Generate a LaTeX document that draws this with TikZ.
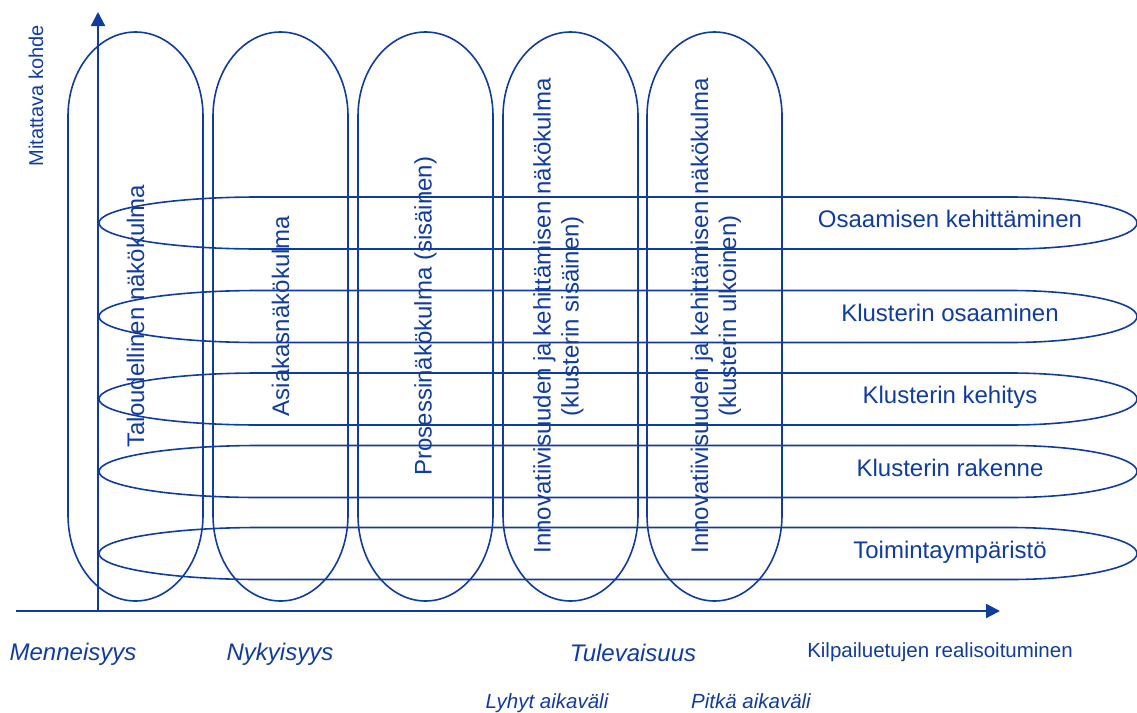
\documentclass[tikz,border=0pt]{standalone}
\usepackage{fontspec}
\setmainfont{Liberation Sans}
\usetikzlibrary{arrows.meta,positioning}
\definecolor{mapcol}{RGB}{16,60,160}

\begin{document}
\begin{tikzpicture}[x=1pt,y=-1pt,
  ring/.style={draw=mapcol,line width=1.6pt},
  axisline/.style={draw=mapcol,line width=2.2pt,-{Triangle[length=14pt,width=14pt]}},
  lbl/.style={text=mapcol,font=\fontsize{24}{28}\selectfont,inner sep=0pt},
  small/.style={text=mapcol,font=\fontsize{20.5}{24}\selectfont,inner sep=0pt}]
  \useasboundingbox (0,0) rectangle (1137,712);
  % vertical views
  \foreach \x in {68,213,358,503,647}
    \draw[ring](\x,116)--(\x,515)
      arc[start angle=180,end angle=360,x radius=67.5pt,y radius=86pt]
      --++(0,-399)
      arc[start angle=0,end angle=180,x radius=67.5pt,y radius=84pt]--cycle;
  % horizontal levels
  \foreach \y in {223,316.5,399,471.5,553.5}
    \draw[ring](259,\y-26)--(1010,\y-26)
      arc[start angle=90,end angle=-90,x radius=127pt,y radius=26pt]
      --(259,\y+26)
      arc[start angle=270,end angle=90,x radius=160pt,y radius=26pt]--cycle;
  % axes
  \coordinate (O) at (98,611);
  \coordinate (ytop) at (98,12);
  \coordinate (xstart) at (16,611);
  \coordinate (xend) at (1000,611);
  \draw[axisline](O)--(ytop);
  \draw[axisline](xstart)--(xend);
  \node[small,rotate=90,font=\fontsize{20}{24}\selectfont] (kohde) at (36,96){Mitattava kohde};
  % view labels
  \node[lbl,rotate=90] (talous) at (135.5,316){Taloudellinen näkökulma};
  \node[lbl,rotate=90] (asiakas) at (280.5,316){Asiakasnäkökulma};
  \node[lbl,rotate=90] (prosessi) at (425.5,316){Prosessinäkökulma (sisäinen)};
  \node[lbl,rotate=90,align=center] (innosis) at (558.5,316)
    {Innovatiivisuuden ja kehittämisen näkökulma\\(klusterin sisäinen)};
  \node[lbl,rotate=90,align=center] (innoulk) at (716,316)
    {Innovatiivisuuden ja kehittämisen näkökulma\\(klusterin ulkoinen)};
  % level labels
  \node[lbl,anchor=base] (osaam) at (950,227.5){Osaamisen kehittäminen};
  \node[lbl,anchor=base] (klosaam) at (950,321){Klusterin osaaminen};
  \node[lbl,anchor=base] (klkeh) at (950,403.5){Klusterin kehitys};
  \node[lbl,anchor=base] (klrak) at (950,476){Klusterin rakenne};
  \node[lbl,anchor=base] (toim) at (950,558){Toimintaympäristö};
  % time labels
  \node[lbl,anchor=base,font=\fontsize{24}{28}\selectfont\itshape] (menn) at (73,660){Menneisyys};
  \node[lbl,anchor=base,font=\fontsize{24}{28}\selectfont\itshape] (nyky) at (280,660){Nykyisyys};
  \node[lbl,anchor=base,font=\fontsize{24}{28}\selectfont\itshape] (tule) at (633,661){Tulevaisuus};
  \node[small,anchor=base] (kilp) at (940,657){Kilpailuetujen realisoituminen};
  \node[small,anchor=base,font=\fontsize{20.5}{24}\selectfont\itshape] (lyhyt) at (547,708){Lyhyt aikaväli};
  \node[small,anchor=base,font=\fontsize{20.5}{24}\selectfont\itshape] (pitka) at (751,708){Pitkä aikaväli};
\end{tikzpicture}
\end{document}
